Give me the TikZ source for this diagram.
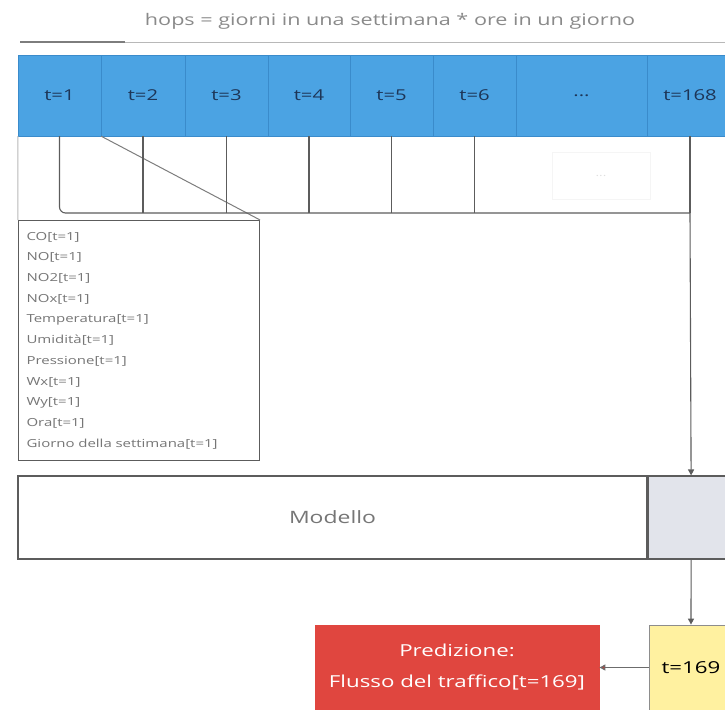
\documentclass[tikz,border=0pt]{standalone}
\usepackage{fontspec}
\setmainfont[FakeStretch=1.35]{Open Sans}
\usetikzlibrary{arrows.meta,positioning}
\definecolor{cBlue}{HTML}{4BA3E3}
\definecolor{cEdge}{HTML}{3A8BCB}
\definecolor{cInk}{HTML}{1D3557}
\definecolor{cGray}{HTML}{5C5C5C}
\definecolor{cPale}{HTML}{B8B8B8}
\definecolor{cSoft}{HTML}{E2E4EB}
\definecolor{cYel}{HTML}{FFF1A0}
\definecolor{cRed}{HTML}{E0463F}
\definecolor{cRust}{HTML}{B5453E}
\definecolor{cTxt}{HTML}{767676}
\tikzset{
  cell/.style={draw=cEdge,fill=cBlue,minimum height=81pt,inner sep=0pt,
              text=cInk,font=\fontsize{15}{17}\selectfont},
  link/.style={draw=cGray,line width=1.1pt},
  flow/.style={link,-{Triangle[length=6pt,width=6pt]}},
  feats/.style={draw=cGray,line width=1.1pt,fill=white,align=left,anchor=north west,
              text width=225pt,inner xsep=8pt,minimum height=240pt,text=cTxt,
              font=\fontsize{11.1}{20.7}\selectfont},
  modbox/.style={draw=cGray,line width=1.1pt,minimum height=83pt,inner sep=0pt,
              text=cTxt,font=\fontsize{17}{19}\selectfont},
  outbox/.style={draw=cGray!70,line width=.8pt,minimum height=85pt,inner sep=0pt,
              font=\fontsize{16.5}{19}\selectfont},
}
\begin{document}
\begin{tikzpicture}[x=1pt,y=-1pt]
  \useasboundingbox (0,0) rectangle (725,709);
  % window: giorni * ore
  \node[text=cTxt!85,font=\fontsize{16}{18}\selectfont](hops) at (390,21)
    {hops = giorni in una settimana * ore in un giorno};
  \draw[cPale,line width=.6pt] (20,42) -- (725,42);
  \draw[cGray!80,line width=2.2pt] (20,42) -- (125,42);
  \node[cell,minimum width=83pt](c1) at (59.5,95.5) {t=1};
  \node[cell,minimum width=84pt](c2) at (143,95.5) {t=2};
  \node[cell,minimum width=83pt](c3) at (226.5,95.5) {t=3};
  \node[cell,minimum width=82pt](c4) at (309,95.5) {t=4};
  \node[cell,minimum width=83pt](c5) at (391.5,95.5) {t=5};
  \node[cell,minimum width=83pt](c6) at (474.5,95.5) {t=6};
  \node[cell,minimum width=131pt](c7) at (581.5,95.5) {...};
  \node[cell,minimum width=86pt](c8) at (690,95.5) {t=168};
  \node[draw=gray!8,text=gray!25,minimum width=98pt,minimum height=47pt](gap) at (601,176) {...};
  % zoom on t=1
  \node[feats](feat) at (18,220) {CO[t=1]\\NO[t=1]\\NO2[t=1]\\NOx[t=1]\\Temperatura[t=1]\\
    Umidità[t=1]\\Pressione[t=1]\\Wx[t=1]\\Wy[t=1]\\Ora[t=1]\\Giorno della settimana[t=1]};
  \draw[cPale,line width=1pt] (c1.south west) -- (feat.north west);
  \draw[cGray!80,line width=1pt] (c1.south east) -- (feat.north east);
  \coordinate (bus) at (690,213);
  \draw[link,rounded corners=6pt] (c1.south) |- (bus);
  \draw[link] (c2.south) -- (c2.south |- bus);
  \draw[link] (c3.south) -- (c3.south |- bus);
  \draw[link] (c4.south) -- (c4.south |- bus);
  \draw[link] (c5.south) -- (c5.south |- bus);
  \draw[link] (c6.south) -- (c6.south |- bus);
  \draw[link] (c8.south) -- (bus);
  % modello
  \node[modbox,fill=white,minimum width=629pt](model) at (332.5,517.5) {Modello};
  \node[modbox,fill=cSoft,minimum width=86pt,anchor=west](mhead) at (model.east) {};
  \draw[flow] (bus) -- (mhead.north);
  \node[outbox,fill=cYel,minimum width=84pt](out) at (691,667.5) {t=169};
  \node[outbox,fill=cRed,draw=cRed,text=white,minimum width=284pt,align=center,
    font=\fontsize{16.5}{31}\selectfont](pred) at (457,667.5) {Predizione:\\Flusso del traffico[t=169]};
  \draw[flow] (mhead.south) -- (out.north);
  \draw[link,draw=cGray!90,-{Triangle[length=6pt,width=6pt,fill=cRust]}] (out.west) -- (pred.east);
\end{tikzpicture}
\end{document}
